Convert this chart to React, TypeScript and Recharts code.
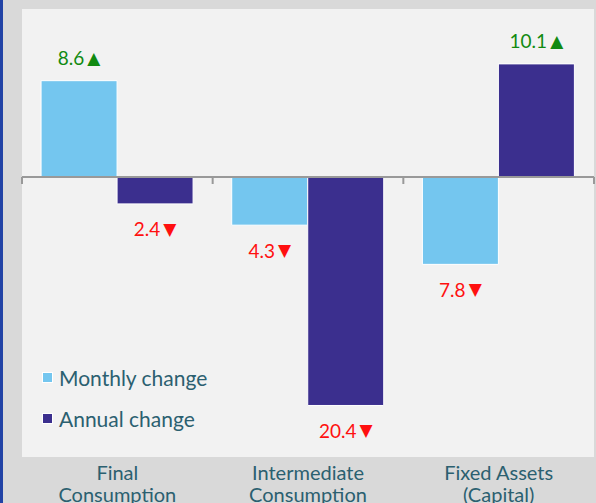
import React from "react";
import {
  BarChart,
  Bar,
  XAxis,
  YAxis,
  CartesianGrid,
  ReferenceLine,
  LabelList,
  Legend,
} from "recharts";

const categories = ["Final\nConsumption", "Intermediate\nConsumption", "Fixed Assets\n(Capital)"];
const monthlyChange = [8.6, -4.3, -7.8];
const annualChange = [-2.4, -20.4, 10.1];
const seriesNames = ["Monthly change", "Annual change"];
const yDomain = [-25, 15];

const data = categories.map((name, i) => ({
  name,
  monthly: monthlyChange[i],
  annual: annualChange[i],
}));

const FONT = "Lato, 'Open Sans', sans-serif";
const TEXT = "#2b6070";

function ValueLabel(props: any) {
  const { x, y, width, height, value } = props;
  const top = Math.min(y, y + height);
  const bottom = Math.max(y, y + height);
  const up = value >= 0;
  const cy = up ? top - 23 : bottom + 25;
  return (
    <text
      x={x + width / 2}
      y={cy}
      textAnchor="middle"
      dominantBaseline="central"
      fontFamily={FONT}
      fontSize={19}
      fill={up ? "#118a11" : "#ff1010"}
    >
      {Math.abs(value).toFixed(1)}
      <tspan dx={3} fontFamily="'DejaVu Sans', sans-serif" fontSize={17}>
        {up ? "▲" : "▼"}
      </tspan>
    </text>
  );
}

function CategoryTick(props: any) {
  const { x, y, payload } = props;
  const lines = String(payload.value).split("\n");
  return (
    <text x={x} y={y} textAnchor="middle" fontFamily={FONT} fontSize={20} fill={TEXT}>
      {lines.map((l, i) => (
        <tspan key={i} x={x} dy={i === 0 ? 15 : 22}>
          {l}
        </tspan>
      ))}
    </text>
  );
}

function ZeroLine(props: any) {
  const { x1, x2, y1 } = props;
  const n = categories.length;
  const step = (x2 - x1) / n;
  const ticks = Array.from({ length: n + 1 }, (_, i) => x1 + i * step);
  return (
    <g>
      <line x1={x1} x2={x2} y1={y1} y2={y1} stroke="#999" strokeWidth={2} />
      {ticks.map((tx, i) => (
        <line key={i} x1={tx} x2={tx} y1={y1} y2={y1 + 7} stroke="#999" strokeWidth={2} />
      ))}
    </g>
  );
}

function LegendContent(props: any) {
  const items = [...(props.payload || [])].sort(
    (a: any, b: any) => seriesNames.indexOf(a.value) - seriesNames.indexOf(b.value)
  );
  return (
    <div style={{ fontFamily: FONT, fontSize: 21, color: TEXT }}>
      {items.map((p: any, i: number) => (
        <div key={i} style={{ display: "flex", alignItems: "center", height: 41 }}>
          <span
            style={{
              display: "inline-block",
              width: 9,
              height: 9,
              background: p.color,
              border: "1px solid #fff",
              marginRight: 6,
            }}
          />
          {p.value}
        </div>
      ))}
    </div>
  );
}

export default function App() {
  return (
    <div
      style={{
        position: "absolute",
        left: 0,
        top: 0,
        width: 596,
        height: 503,
        background: "#d9d9d9",
        overflow: "hidden",
      }}
    >
      <div style={{ position: "absolute", left: 0, top: 0, width: 3, height: 503, background: "#2243a6" }} />
      <BarChart
        width={596}
        height={503}
        data={data}
        margin={{ top: 9, right: 2, left: 22, bottom: 0 }}
        barCategoryGap="10%"
        barGap={0}
      >
        <CartesianGrid horizontal={false} vertical={false} fill="#f2f2f2" />
        <XAxis
          dataKey="name"
          height={46}
          axisLine={false}
          tickLine={false}
          interval={0}
          tick={<CategoryTick />}
        />
        <YAxis hide type="number" domain={yDomain} allowDataOverflow />
        <Legend
          layout="vertical"
          align="center"
          verticalAlign="middle"
          wrapperStyle={{ left: 42, top: 357, width: 220 }}
          content={<LegendContent />}
        />
        <Bar dataKey="monthly" name={seriesNames[0]} fill="#74c6ef" stroke="#fff" strokeWidth={1} isAnimationActive={false}>
          <LabelList dataKey="monthly" content={<ValueLabel />} />
        </Bar>
        <Bar dataKey="annual" name={seriesNames[1]} fill="#3b2f8e" stroke="#fff" strokeWidth={1} isAnimationActive={false}>
          <LabelList dataKey="annual" content={<ValueLabel />} />
        </Bar>
        <ReferenceLine y={0} shape={<ZeroLine />} ifOverflow="visible" />
      </BarChart>
    </div>
  );
}
